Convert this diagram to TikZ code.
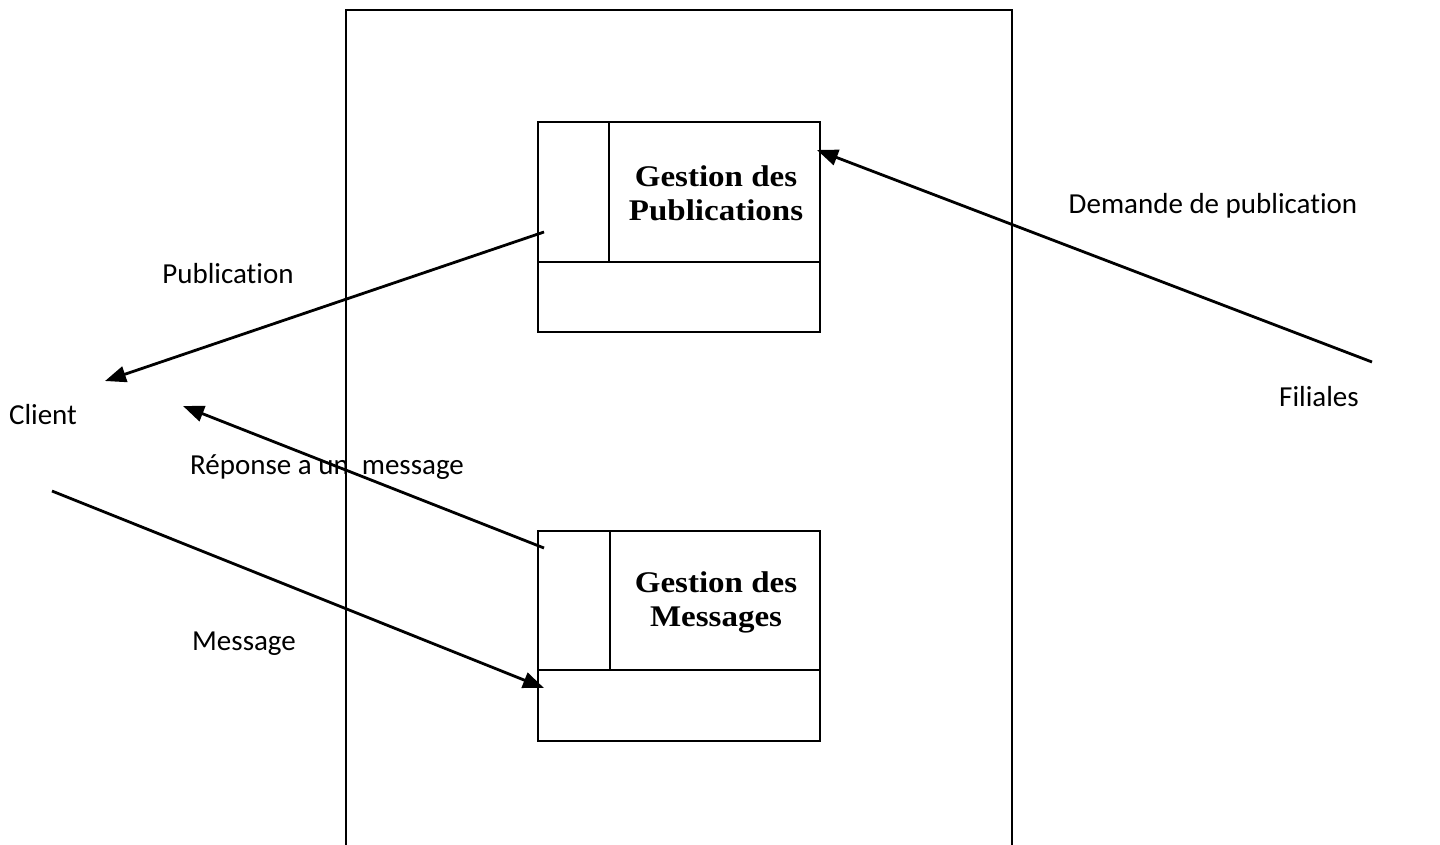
\documentclass[tikz,border=0pt]{standalone}
\usepackage{fontspec}
\setmainfont[Ligatures=NoCommon]{Carlito}
\newfontfamily\boxfont[FakeStretch=1.1]{Liberation Serif}
\usetikzlibrary{arrows.meta}
\begin{document}
\begin{tikzpicture}[x=1pt,y=-1pt,
  lbl/.style={font=\fontsize{29}{34}\selectfont, inner sep=0pt},
  ttl/.style={font=\boxfont\bfseries\fontsize{30}{34}\selectfont, align=center, inner sep=0pt},
  frame/.style={line width=2.2pt},
  flow/.style={line width=2.8pt, -{Triangle[length=21pt,width=16pt]}}]
\useasboundingbox (0,0) rectangle (1440,844);

% system boundary, open at the bottom
\draw[frame] (346,850) -- (346,10) -- (1012,10) -- (1012,850);

% process: Gestion des Publications
\draw[frame] (538,122) rectangle (820,332);
\draw[frame] (538,262) -- (820,262);
\draw[frame] (609,122) -- (609,262);
\node[ttl] (gp) at (716,193) {Gestion des\\Publications};

% process: Gestion des Messages
\draw[frame] (538,531) rectangle (820,741);
\draw[frame] (538,670) -- (820,670);
\draw[frame] (610,531) -- (610,670);
\node[ttl] (gm) at (716,602) {Gestion des\\Messages};

% external entities
\node[lbl] (client) at (43,415) {Client};
\node[lbl] (filiales) at (1319,397) {Filiales};

% connector ends
\coordinate (gpout) at (544,232);
\coordinate (gpin) at (817,150);
\coordinate (gmout) at (544,548);
\coordinate (gmin) at (544,688);
\coordinate (clin1) at (105,381);
\coordinate (clin2) at (183,406);
\coordinate (clout) at (52,491);
\coordinate (filout) at (1372,362);

% flows
\draw[flow] (gpout) -- (clin1);
\draw[flow] (gmout) -- (clin2);
\draw[flow] (clout) -- (gmin);
\draw[flow] (filout) -- (gpin);

% flow labels
\node[lbl] (lpub) at (228,274) {Publication};
\node[lbl] (lrep) at (327,467) {Réponse a un\ \ message};
\node[lbl] (lmsg) at (244,644) {Message};
\node[lbl] (ldem) at (1213,206) {Demande de publication};
\end{tikzpicture}
\end{document}
